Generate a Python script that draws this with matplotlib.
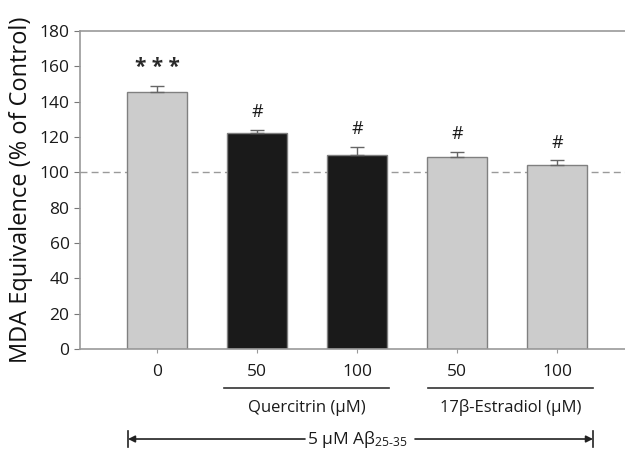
import numpy as np
import matplotlib
matplotlib.use("Agg")
import matplotlib.pyplot as plt
from matplotlib import transforms

plt.rcParams['font.family'] = ['Open Sans', 'DejaVu Sans']
plt.rcParams['mathtext.default'] = 'regular'

# data
doses = ['0', '50', '100', '50', '100']
means = [145.5, 122.0, 110.0, 108.5, 104.0]
errors = [3.2, 2.1, 4.2, 3.0, 2.7]
marks = ['***', '#', '#', '#', '#']
bar_colors = ['#cccccc', '#1a1a1a', '#1a1a1a', '#cccccc', '#cccccc']
groups = ['Quercitrin (\u03bcM)', '17\u03b2-Estradiol (\u03bcM)']

fig = plt.figure(figsize=(6.25, 4.49), dpi=100)
ax = fig.add_axes([0.128, 0.2227, 0.872, 0.7083])

x = np.arange(len(means))
ax.axhline(100, color='#9a9a9a', lw=1.0, ls=(0, (5, 3)), zorder=1)
ax.bar(x, means, width=0.6, color=bar_colors, edgecolor='#808080', lw=1.0, zorder=2)
ax.errorbar(x, means, yerr=[np.zeros(len(errors)), errors], fmt='none',
            ecolor='#666666', elinewidth=1.0, capsize=5, capthick=1.0, zorder=3)

for xi, m, e, s in zip(x, means, errors, marks):
    if s == '***':
        ax.text(xi, m + e + 10.5, '* * *', ha='center', va='center', fontsize=15,
                fontweight='bold', color='#2a2a2a')
    else:
        ax.text(xi, m + e + 5, s, ha='center', va='bottom', fontsize=13, color='#1a1a1a')

ax.set_xlim(-0.77, 4.68)
ax.set_ylim(0, 180)
ax.set_yticks(np.arange(0, 181, 20))
ax.set_xticks(x)
ax.set_xticklabels(doses)
ax.tick_params(axis='both', labelsize=12.5, colors='#1a1a1a', length=4, width=0.8)
ax.tick_params(axis='x', length=3, pad=8, color='#999999')
ax.tick_params(axis='y', color='#777777')
ax.spines['right'].set_visible(False)
for sp in ['top', 'left', 'bottom']:
    ax.spines[sp].set_color('#9a9a9a')
    ax.spines[sp].set_linewidth(1.2)
ax.set_ylabel('MDA Equivalence (% of Control)', fontsize=17, color='#111111', labelpad=5)

# group annotations under the axis
tr = transforms.blended_transform_factory(ax.transData, ax.transAxes)
for (x0, x1), name in zip([(0.67, 2.32), (2.71, 4.36)], groups):
    ax.plot([x0, x1], [-0.123, -0.123], transform=tr, color='#333333', lw=1.2, clip_on=False)
    ax.text((x0 + x1) / 2, -0.185, name, transform=tr, ha='center', va='center',
            fontsize=12, color='#1a1a1a')

ya = -0.283
ax.text(2.0, ya, '5 \u03bcM A\u03b2$_{25\u201035}$', transform=tr, ha='center', va='center',
        fontsize=12.5, color='#1a1a1a')
ax.annotate('', xy=(-0.29, ya), xytext=(1.48, ya), xycoords=tr, textcoords=tr,
            arrowprops=dict(arrowstyle='-|>', color='#222222', lw=1.2,
                            mutation_scale=10, shrinkA=0, shrinkB=0))
ax.annotate('', xy=(4.36, ya), xytext=(2.58, ya), xycoords=tr, textcoords=tr,
            arrowprops=dict(arrowstyle='-|>', color='#222222', lw=1.2,
                            mutation_scale=10, shrinkA=0, shrinkB=0))
for xe in (-0.29, 4.36):
    ax.plot([xe, xe], [ya - 0.025, ya + 0.025], transform=tr, color='#222222',
            lw=1.2, clip_on=False)

fig.savefig('out.png', dpi=100)
